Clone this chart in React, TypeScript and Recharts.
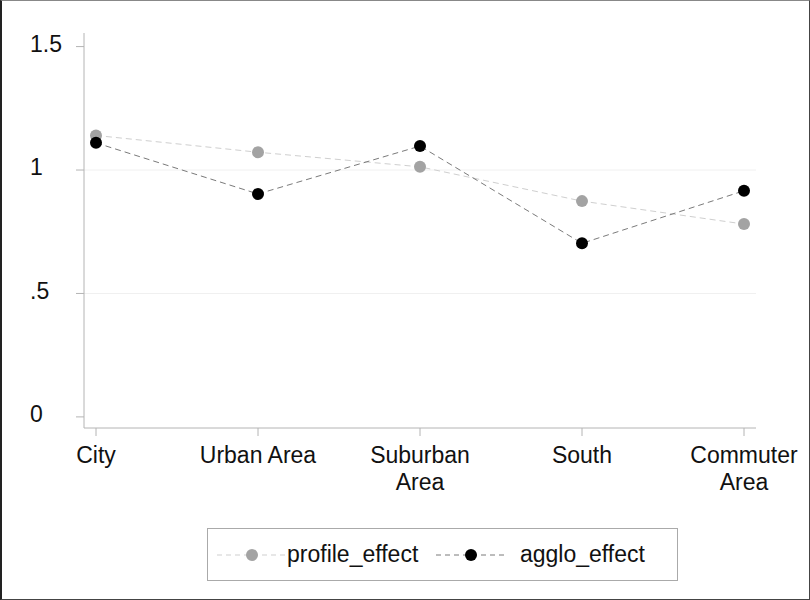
import React from "react";
import { LineChart, Line, XAxis, YAxis, CartesianGrid } from "recharts";

const areas = ["City", "Urban Area", "Suburban\nArea", "South", "Commuter\nArea"];
const profileEffect = [1.14, 1.072, 1.013, 0.874, 0.781];
const aggloEffect = [1.11, 0.903, 1.097, 0.703, 0.916];
const yTicks = [0, 0.5, 1, 1.5];
const gridValues = [0.5, 1];

const SERIES = [
  { key: "profile_effect", dot: "#a3a3a3", line: "#cfcfcf" },
  { key: "agglo_effect", dot: "#000000", line: "#7a7a7a" }
];

const data = areas.map((area, i) => ({
  area,
  profile_effect: profileEffect[i],
  agglo_effect: aggloEffect[i]
}));

const FONT = "'Liberation Sans', Arial, Helvetica, sans-serif";
const AXIS = "#b4b4b4";

function fmtY(v: number) {
  if (v === 0) return "0";
  return String(v).replace(/^0\./, ".");
}

/* y tick labels sit left-aligned at the image edge, Stata style */
function YTick(props: any) {
  const { y, payload } = props;
  return (
    <text x={30} y={y - 3} dy="0.355em" textAnchor="start" fontSize={23} fontFamily={FONT} fill="#111">
      {fmtY(payload.value)}
    </text>
  );
}

function XTick(props: any) {
  const { x, y, payload } = props;
  const lines = String(payload.value).split("\n");
  return (
    <text x={x} y={y} textAnchor="middle" fontSize={23} fontFamily={FONT} fill="#111">
      {lines.map((l, i) => (
        <tspan key={i} x={x} dy={i === 0 ? 27 : 27}>
          {l}
        </tspan>
      ))}
    </text>
  );
}

/* legend box under the plot */
function LegendBox() {
  const starts = [9, 228];
  return (
    <div
      style={{
        position: "absolute",
        left: 207,
        top: 528,
        width: 471,
        height: 53,
        boxSizing: "border-box",
        border: "1px solid #aaa",
        background: "#fff",
        fontFamily: FONT,
        fontSize: 23,
        color: "#111"
      }}
    >
      {SERIES.map((s, i) => (
        <div
          key={s.key}
          style={{ position: "absolute", left: starts[i], top: 0, height: 51, display: "flex", alignItems: "center" }}
        >
          <svg width={70} height={14} style={{ display: "block" }}>
            <line x1={0} y1={7} x2={70} y2={7} stroke={s.line} strokeDasharray="5 4" />
            <circle cx={35} cy={7} r={6} fill={s.dot} />
          </svg>
          <span style={{ marginLeft: i === 0 ? 0 : 14, lineHeight: "23px" }}>{s.key}</span>
        </div>
      ))}
    </div>
  );
}

export default function App() {
  return (
    <div style={{ position: "absolute", left: 0, top: 0, width: 810, height: 600, background: "#fff" }}>
      <LineChart width={810} height={600} data={data} margin={{ top: 33, right: 54, left: 30, bottom: 112 }}>
        <CartesianGrid horizontal vertical={false} horizontalValues={gridValues} stroke="#f0f0f0" />
        <XAxis
          dataKey="area"
          type="category"
          height={60}
          padding={{ left: 12, right: 12 }}
          axisLine={{ stroke: AXIS }}
          tickLine={{ stroke: AXIS }}
          tickSize={8}
          tickMargin={0}
          interval={0}
          tick={<XTick />}
        />
        <YAxis
          type="number"
          width={54}
          domain={[-0.045, 1.555]}
          allowDataOverflow
          ticks={yTicks}
          axisLine={{ stroke: AXIS }}
          tickLine={{ stroke: AXIS }}
          tickSize={8}
          tick={<YTick />}
        />
        {SERIES.map((s) => (
          <Line
            key={s.key}
            dataKey={s.key}
            type="linear"
            stroke={s.line}
            strokeWidth={1}
            strokeDasharray="6 4"
            dot={{ r: 6, fill: s.dot, stroke: "none" }}
            activeDot={false}
            isAnimationActive={false}
          />
        ))}
      </LineChart>
      <LegendBox />
      <div
        style={{
          position: "absolute",
          left: 0,
          top: 0,
          width: 810,
          height: 600,
          boxSizing: "border-box",
          borderTop: "1px solid #888",
          borderLeft: "2px solid #222",
          borderRight: "1px solid #444",
          borderBottom: "1px solid #444",
          pointerEvents: "none"
        }}
      />
    </div>
  );
}
